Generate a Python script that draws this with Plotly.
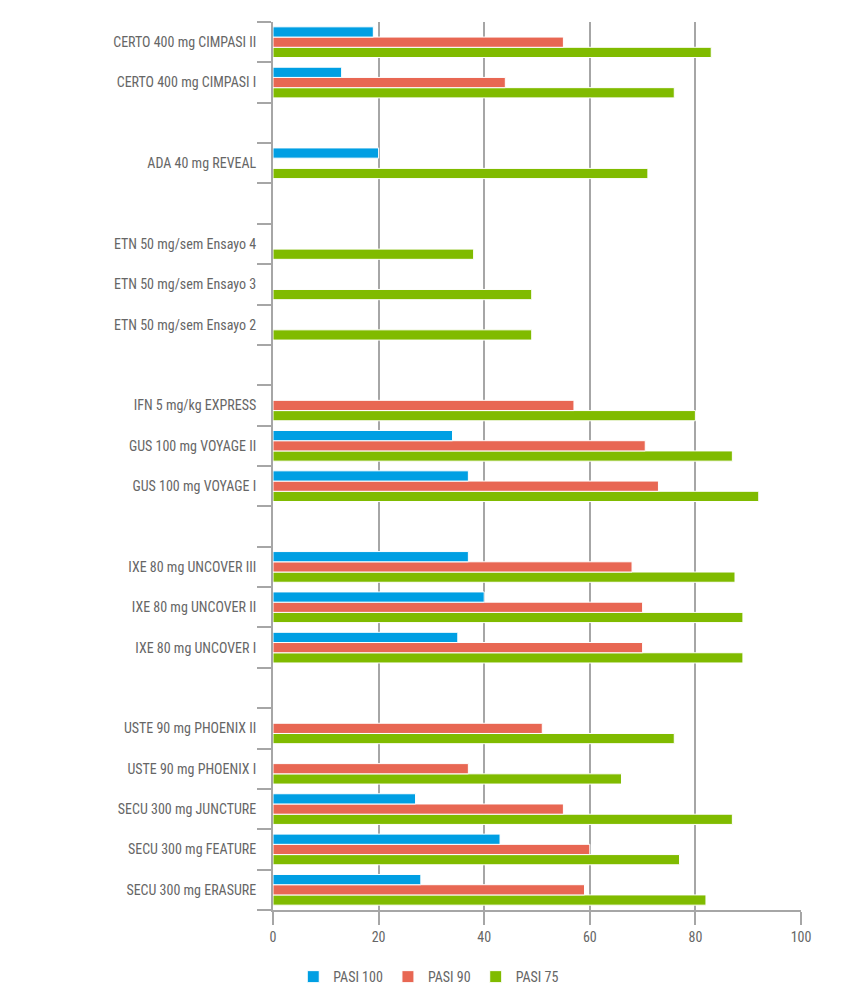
import plotly.graph_objects as go

categories = [
    "SECU 300 mg ERASURE",
    "SECU 300 mg FEATURE",
    "SECU 300 mg JUNCTURE",
    "USTE 90 mg PHOENIX I",
    "USTE 90 mg PHOENIX II",
    " ",
    "IXE 80 mg UNCOVER I",
    "IXE 80 mg UNCOVER II",
    "IXE 80 mg UNCOVER III",
    "  ",
    "GUS 100 mg VOYAGE I",
    "GUS 100 mg VOYAGE II",
    "IFN 5 mg/kg EXPRESS",
    "   ",
    "ETN 50 mg/sem Ensayo 2",
    "ETN 50 mg/sem Ensayo 3",
    "ETN 50 mg/sem Ensayo 4",
    "    ",
    "ADA 40 mg REVEAL",
    "     ",
    "CERTO 400 mg CIMPASI I",
    "CERTO 400 mg CIMPASI II",
]

pasi75 = [82, 77, 87, 66, 76, None, 89, 89, 87.5, None, 92, 87, 80, None,
          49, 49, 38, None, 71, None, 76, 83]
pasi90 = [59, 60, 55, 37, 51, None, 70, 70, 68, None, 73, 70.5, 57, None,
          None, None, None, None, None, None, 44, 55]
pasi100 = [28, 43, 27, None, None, None, 35, 40, 37, None, 37, 34, None, None,
           None, None, None, None, 20, None, 13, 19]

series = [
    ("PASI 75", pasi75, "#80bb00"),
    ("PASI 90", pasi90, "#e86753"),
    ("PASI 100", pasi100, "#009fe3"),
]

fig = go.Figure()
for name, vals, color in series:
    fig.add_trace(go.Bar(
        name=name, y=categories, x=vals, orientation="h",
        marker=dict(color=color, line=dict(color="white", width=1)),
    ))

font = "'Liberation Sans Narrow', 'Roboto Condensed', Roboto, sans-serif"
fig.update_layout(
    width=842, height=992,
    margin=dict(l=265, r=49, t=14, b=90, autoexpand=False),
    paper_bgcolor="white", plot_bgcolor="white",
    barmode="group", bargap=0.24, bargroupgap=0,
    font=dict(family=font, size=14, color="#666666"),
    showlegend=True,
    legend=dict(orientation="h", x=0.295, xanchor="center",
                y=-0.0755, yanchor="middle",
                traceorder="reversed", font=dict(size=14, color="#666666"),
                itemwidth=30),
    xaxis=dict(range=[0, 100], tickvals=[0, 20, 40, 60, 80, 100],
               showgrid=True, gridcolor="#a6a6a6", gridwidth=2,
               showline=True, linecolor="#a6a6a6", linewidth=2,
               ticks="outside", ticklen=13, tickcolor="#a6a6a6", tickwidth=2,
               ticklabelstandoff=0,
               zeroline=False, tickfont=dict(size=14, color="#666666")),
    yaxis=dict(type="category", categoryorder="array", categoryarray=categories,
               tickson="boundaries", ticks="outside", ticklen=14,
               tickcolor="#a6a6a6", tickwidth=2,
               ticklabelstandoff=12,
               showline=True, linecolor="#a6a6a6", linewidth=2,
               showgrid=False, zeroline=False,
               tickfont=dict(size=14, color="#666666")),
)

fig.write_html("out.html")
